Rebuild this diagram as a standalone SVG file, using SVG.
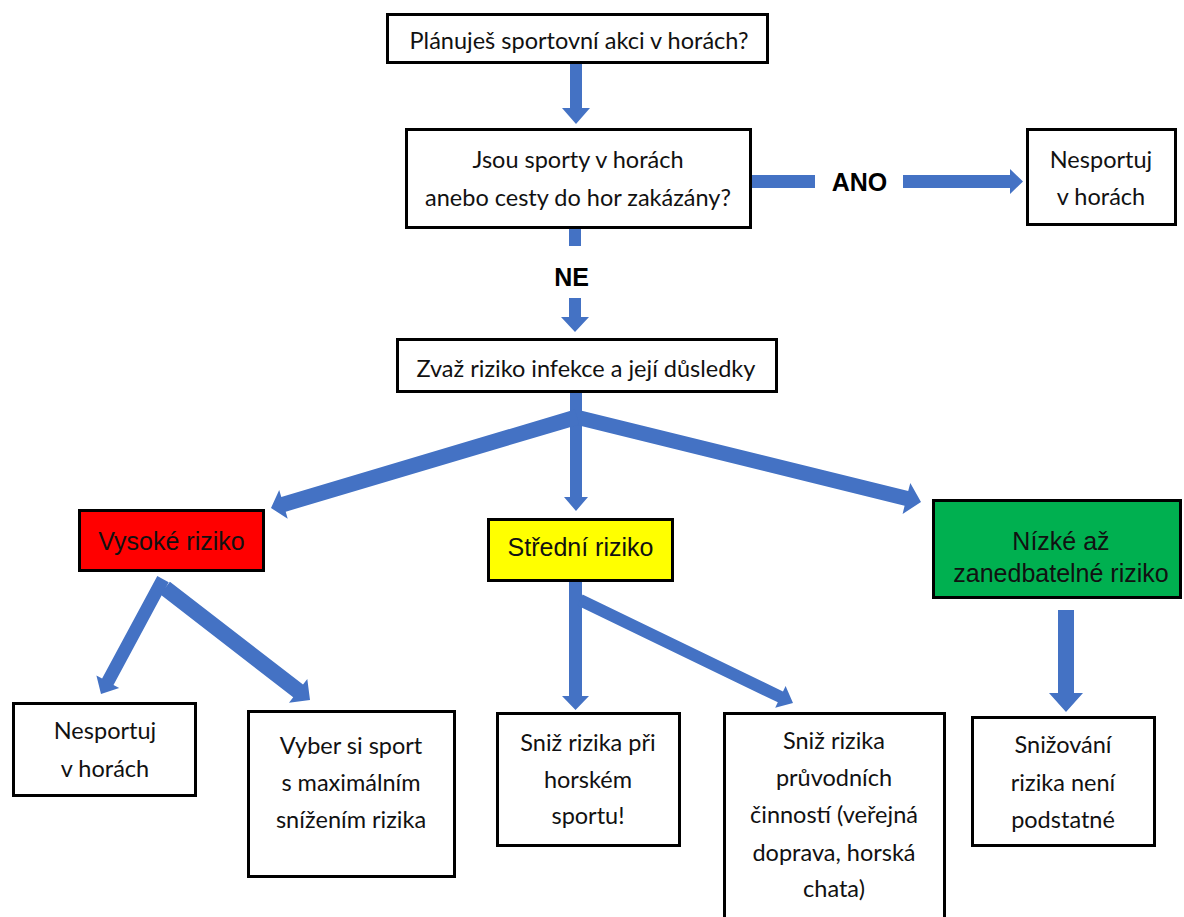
<svg xmlns="http://www.w3.org/2000/svg" width="1184" height="917" viewBox="0 0 1184 917">
<style>
.box{fill:#fff;stroke:#000;stroke-width:3}
.t{font-family:Lato,"Liberation Sans",sans-serif;font-size:23.5px;fill:#111;text-anchor:middle}
.a{font-family:"Liberation Sans",Arial,sans-serif;font-size:25px;fill:#111;text-anchor:middle}
.b{font-family:"Liberation Sans",Arial,sans-serif;font-size:25px;font-weight:bold;fill:#000;text-anchor:middle}
.arr{fill:#4472C4}
</style>
<rect width="1184" height="917" fill="#fff"/>
<g id="connectors">
<polygon class="arr" points="570,64 582,64 582,108 590,108 576,124 562,108 570,108"/>
<rect class="arr" x="752" y="175" width="63" height="13"/>
<polygon class="arr" points="903,175 1010,175 1010,169 1023,181.5 1010,194 1010,188 903,188"/>
<rect class="arr" x="569" y="229" width="12" height="17"/>
<polygon class="arr" points="569,298 581,298 581,317 589,317 575,332 561,317 569,317"/>
<polygon class="arr" points="570,393 582,393 582,497 588,497 576,511 564,497 570,497"/>
<polygon class="arr" points="574.8,409.6 281.3,496.9 279.2,489.9 271,508 287.7,518.7 285.7,511.7 579.2,424.4"/>
<polygon class="arr" points="578.2,425.3 904.6,505.7 902.6,514 921,502 910.3,482.9 908.2,491.1 581.8,410.7"/>
<polygon class="arr" points="157.3,575.9 102.1,678.6 96.4,675.5 101,694 119.2,688.1 113.5,684.9 168.7,582.2"/>
<polygon class="arr" points="160.1,594.3 293.2,697.2 289,702.7 310,700 307.3,679 303,684.5 169.9,581.7"/>
<polygon class="arr" points="569,582 582,582 582,696 589,696 575.5,710 562,696 569,696"/>
<polygon class="arr" points="577.4,605.4 777.8,702.3 775.2,707.7 793,703 785.6,686.1 783,691.5 582.6,594.6"/>
<polygon class="arr" points="1058,610 1074,610 1074,693 1083,693 1066,712 1049,693 1058,693"/>
<text class="b" x="859.5" y="191">ANO</text>
<text class="b" x="571.5" y="286">NE</text>
</g>
<g id="n1">
<rect class="box" x="387.5" y="14.5" width="380" height="48"/>
<text class="t" x="579" y="49">Plánuješ sportovní akci v horách?</text>
</g>
<g id="n2">
<rect class="box" x="406.5" y="129.5" width="344" height="98"/>
<text class="t" x="578" y="168">Jsou sporty v horách</text>
<text class="t" x="578" y="206">anebo cesty do hor zakázány?</text>
</g>
<g id="n3">
<rect class="box" x="1027.5" y="129.5" width="148" height="95"/>
<text class="t" x="1101" y="168">Nesportuj</text>
<text class="t" x="1101" y="205">v horách</text>
</g>
<g id="n4">
<rect class="box" x="397.5" y="339.5" width="379" height="52"/>
<text class="t" x="586" y="377">Zvaž riziko infekce a její důsledky</text>
</g>
<g id="n5">
<rect x="79.5" y="510.5" width="184" height="60" fill="#FF0000" stroke="#000" stroke-width="3"/>
<text class="a" x="171.5" y="550">Vysoké riziko</text>
</g>
<g id="n6">
<rect x="488.5" y="519.5" width="184" height="61" fill="#FFFF00" stroke="#000" stroke-width="3"/>
<text class="a" x="580.5" y="556">Střední riziko</text>
</g>
<g id="n7">
<rect x="933.5" y="500.5" width="247" height="97" fill="#00B050" stroke="#000" stroke-width="3"/>
<text class="a" x="1061" y="550">Nízké až</text>
<text class="a" x="1061" y="582">zanedbatelné riziko</text>
</g>
<g id="n8">
<rect class="box" x="13.5" y="703.5" width="182" height="92"/>
<text class="t" x="105" y="739">Nesportuj</text>
<text class="t" x="105" y="777">v horách</text>
</g>
<g id="n9">
<rect class="box" x="248.5" y="711.5" width="206" height="165"/>
<text class="t" x="351" y="754">Vyber si sport</text>
<text class="t" x="351" y="791">s maximálním</text>
<text class="t" x="351" y="828">snížením rizika</text>
</g>
<g id="n10">
<rect class="box" x="497.5" y="713.5" width="182" height="132"/>
<text class="t" x="588" y="751">Sniž rizika při</text>
<text class="t" x="588" y="788">horském</text>
<text class="t" x="588" y="824">sportu!</text>
</g>
<g id="n11">
<rect class="box" x="724.5" y="713.5" width="220" height="210"/>
<text class="t" x="834" y="749">Sniž rizika</text>
<text class="t" x="834" y="786">průvodních</text>
<text class="t" x="834" y="823">činností (veřejná</text>
<text class="t" x="834" y="861">doprava, horská</text>
<text class="t" x="834" y="897">chata)</text>
</g>
<g id="n12">
<rect class="box" x="972.5" y="717.5" width="182" height="128"/>
<text class="t" x="1063" y="753">Snižování</text>
<text class="t" x="1063" y="791">rizika není</text>
<text class="t" x="1063" y="828">podstatné</text>
</g>
</svg>
